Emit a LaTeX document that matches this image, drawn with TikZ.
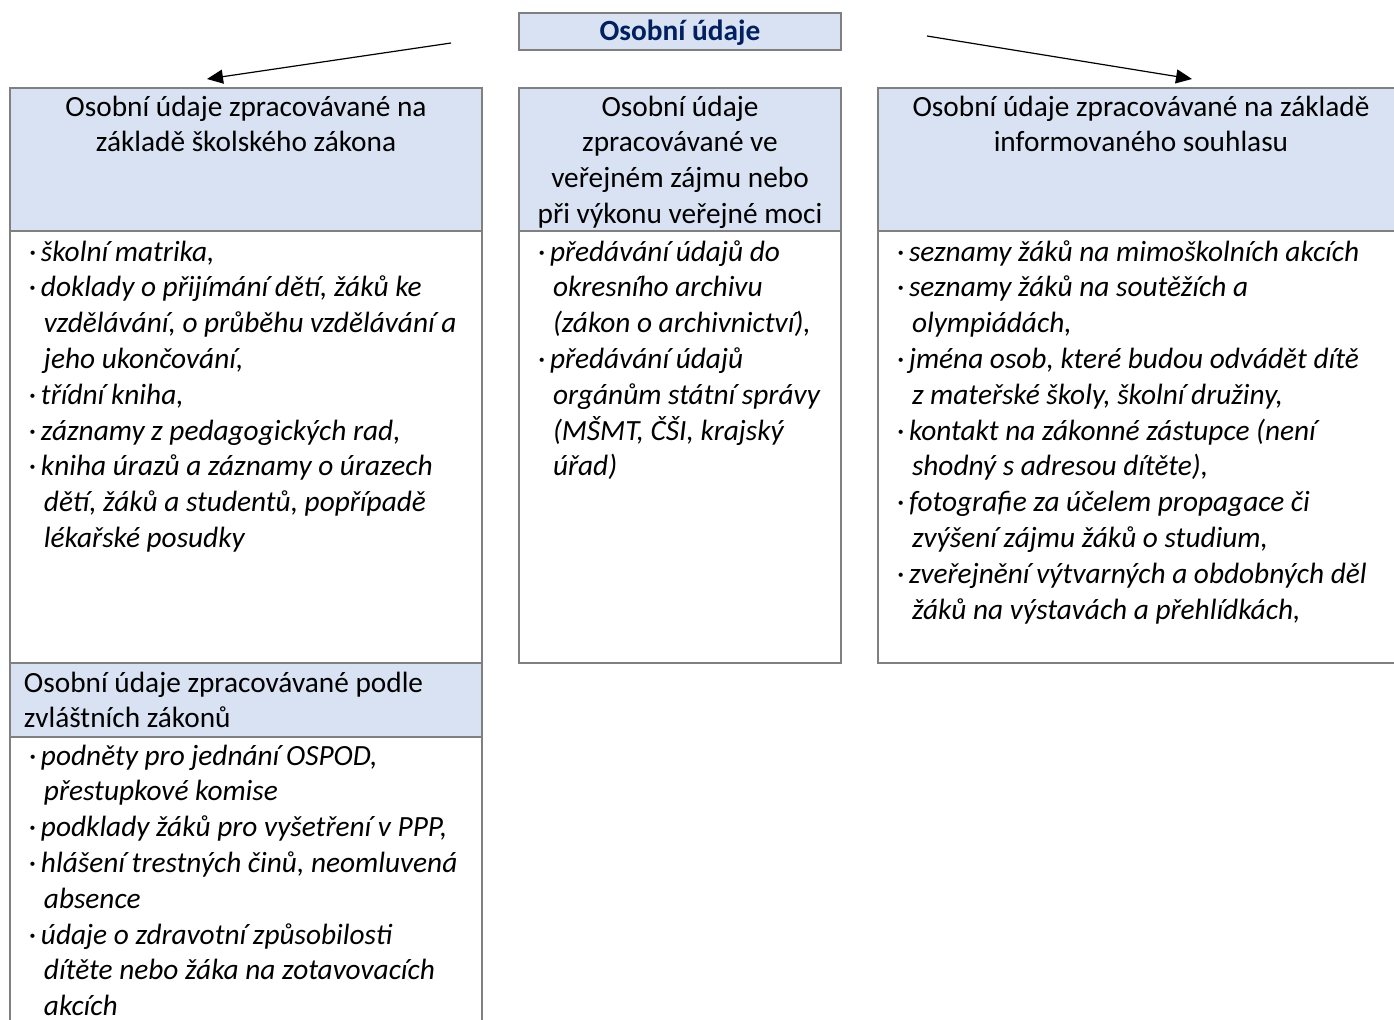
\documentclass[tikz,border=0pt]{standalone}
\usepackage{fontspec}
\setmainfont{Carlito}
\usepackage{xcolor}
\usepackage{tikz}
\usetikzlibrary{arrows.meta,positioning}

\definecolor{HeadBlue}{RGB}{217,226,243}
\definecolor{FrameGray}{RGB}{128,128,128}
\definecolor{TitleBlue}{RGB}{0,32,96}

\newcommand{\itm}[1]{\leftskip=9.5pt\hangindent=7.5pt\hangafter=1\noindent\makebox[6pt][l]{\upshape ·}#1\par}

\begin{document}
\begin{tikzpicture}[x=0.5pt,y=-0.5pt,>={Triangle[length=8pt,width=7pt]},line width=0.6pt,
  every node/.style={font=\fontsize{14.66}{17.9}\selectfont},
  box/.style={draw=FrameGray,line width=1pt,rectangle,anchor=north west,inner sep=0pt,outer sep=0pt},
  head/.style={box,fill=HeadBlue,align=flush center,text height=14pt,text depth=57.5pt},
  body/.style={box,fill=white,align=flush left,text height=15pt,text depth=201pt,
    font=\fontsize{14.66}{17.9}\selectfont\itshape}]

\useasboundingbox (0,0) rectangle (1394,1019);
\clip (0,0) rectangle (1394,1019);

\node[box,fill=HeadBlue,anchor=north west,minimum width=161pt,text height=13.8pt,text depth=4.7pt,text=TitleBlue]
  (title) at (519,13) {\hbox to 161pt{\hfil\bfseries Osobní údaje\hfil}};

\node[head,text width=236pt] (lhead) at (10,88)
  {Osobní údaje zpracovávané na\\ základě školského zákona};
\node[head,text width=161pt,right=18.5pt of lhead] (mhead)
  {Osobní údaje\\ zpracovávané ve\\ veřejném zájmu nebo\\ při výkonu veřejné moci};
\node[head,text width=263pt,right=18.5pt of mhead] (rhead)
  {Osobní údaje zpracovávané na základě\\ informovaného souhlasu};

\node[body,text width=236pt,below=0pt of lhead] (lbody) {%
  \itm{školní matrika,}
  \itm{doklady o přijímání dětí, žáků ke\newline vzdělávání, o průběhu vzdělávání a\newline jeho ukončování,}
  \itm{třídní kniha,}
  \itm{záznamy z pedagogických rad,}
  \itm{kniha úrazů a záznamy o úrazech\newline dětí, žáků a studentů, popřípadě\newline lékařské posudky}};
\node[body,text width=161pt,below=0pt of mhead] (mbody) {%
  \itm{předávání údajů do\newline okresního archivu\newline (zákon o archivnictví),}
  \itm{předávání údajů\newline orgánům státní správy\newline (MŠMT, ČŠI, krajský\newline úřad)}};
\node[body,text width=263pt,below=0pt of rhead] (rbody) {%
  \itm{seznamy žáků na mimoškolních akcích}
  \itm{seznamy žáků na soutěžích a\newline olympiádách,}
  \itm{jména osob, které budou odvádět dítě\newline z mateřské školy, školní družiny,}
  \itm{kontakt na zákonné zástupce (není\newline shodný s adresou dítěte),}
  \itm{fotografie za účelem propagace či\newline zvýšení zájmu žáků o studium,}
  \itm{zveřejnění výtvarných a obdobných děl\newline žáků na výstavách a přehlídkách,}};

\node[head,text width=236pt,align=flush left,text height=14.5pt,text depth=22.5pt,below=0pt of lbody] (bhead)
  {\leftskip=7pt\noindent Osobní údaje zpracovávané podle\newline zvláštních zákonů\par};
\node[body,text width=236pt,text height=14pt,text depth=140pt,below=0pt of bhead] (bbody) {%
  \itm{podněty pro jednání OSPOD,\newline přestupkové komise}
  \itm{podklady žáků pro vyšetření v PPP,}
  \itm{hlášení trestných činů, neomluvená\newline absence}
  \itm{údaje o zdravotní způsobilosti\newline dítěte nebo žáka na zotavovacích\newline akcích}};

% arrows from the title towards the side boxes
\coordinate (lfrom) at (451,43);
\coordinate (lto) at (207,79);
\coordinate (rfrom) at (927,36);
\coordinate (rto) at (1192,79);

\path[->]
  (lfrom) edge (lto)
  (rfrom) edge (rto);

\end{tikzpicture}
\end{document}
